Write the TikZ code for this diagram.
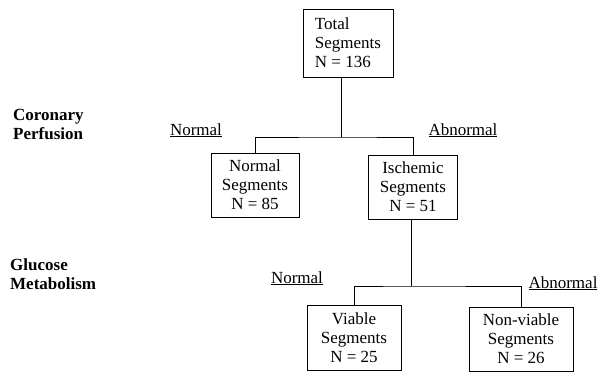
\documentclass[tikz,border=0pt]{standalone}
\usepackage{fontspec}
\setmainfont{Liberation Serif}
\usetikzlibrary{positioning,calc}

\begin{document}
\begin{tikzpicture}[%
                    x=1pt,y=-1pt,
                    font=\fontsize{17}{19}\selectfont,
                    segment/.style={draw,line width=1pt,inner sep=2pt,minimum height=64pt},
                    branch/.style={inner sep=0,anchor=base},
                    stage/.style={inner sep=0,anchor=west,align=left,font=\fontsize{17}{19}\selectfont\bfseries},
                    link/.style={line width=1pt}
        ]
    \useasboundingbox (0,0) rectangle (597,373);
    % boxes
    \node[segment,align=left,minimum width=90pt,minimum height=68pt] (total) at (348,43) {Total\\Segments\\ N = 136};
    \node[segment,align=center,minimum width=88pt] (normal) at (255,185) {Normal\\Segments\\N = 85};
    \node[segment,align=center,minimum width=89pt] (ischemic) at (413,187) {Ischemic\\Segments\\N = 51};
    \node[segment,align=center,minimum width=94pt,minimum height=65pt] (viable) at (354,337.5) {Viable\\Segments\\N = 25};
    \node[segment,align=center,minimum width=104pt] (nonviable) at (521,339) {Non-viable\\Segments\\N = 26};
    % side labels
    \node[stage] (perfusion) at (13,124.5) {Coronary\\Perfusion};
    \node[stage] (metabolism) at (10,274) {Glucose\\Metabolism};
    % branch labels
    \node[branch] (pnormal) at (196,135) {\underline{Normal}};
    \node[branch] (pabnormal) at (463,135) {\underline{Abnormal}};
    \node[branch] (gnormal) at (297,283) {\underline{Normal}};
    \node[branch] (gabnormal) at (563,288) {\underline{Abnormal}};
    % connectors
    \coordinate (split1) at (341,137);
    \coordinate (split2) at (411,286);
    \draw[link] (split1 |- total.south) -- (split1);
    \draw[link] (normal.north) |- (split1) -| (ischemic.north);
    \draw[link] (split2 |- ischemic.south) -- (split2);
    \draw[link] (viable.north) |- (split2) -| (nonviable.north);
\end{tikzpicture}
\end{document}
